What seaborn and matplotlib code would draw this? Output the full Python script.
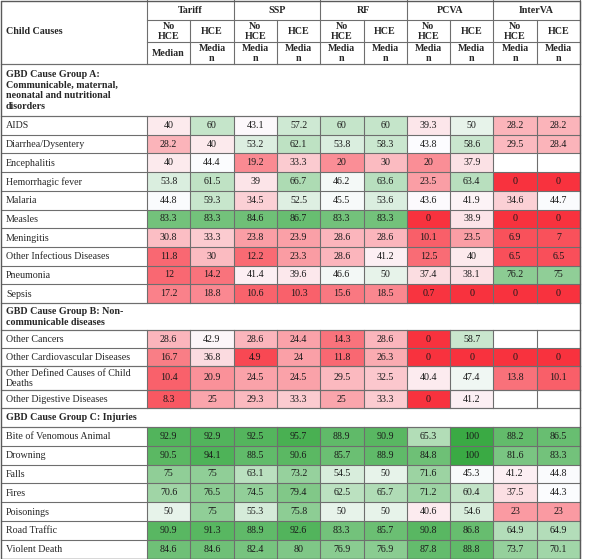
import numpy as np
import pandas as pd
import matplotlib
matplotlib.use("Agg")
import matplotlib.pyplot as plt
import seaborn as sns
from matplotlib.colors import LinearSegmentedColormap

# ---------------- data ----------------
methods = ["Tariff", "SSP", "RF", "PCVA", "InterVA"]
conditions = ["No\nHCE", "HCE"]
stat_first = "Median"
stat_other = "Media\nn"

group_titles = [
    "GBD Cause Group A:\nCommunicable, maternal,\nneonatal and nutritional\ndisorders",
    "GBD Cause Group B: Non-\ncommunicable diseases",
    "GBD Cause Group C: Injuries",
]
causes_a = ["AIDS", "Diarrhea/Dysentery", "Encephalitis", "Hemorrhagic fever", "Malaria",
            "Measles", "Meningitis", "Other Infectious Diseases", "Pneumonia", "Sepsis"]
causes_b = ["Other Cancers", "Other Cardiovascular Diseases",
            "Other Defined Causes of Child\nDeaths", "Other Digestive Diseases"]
causes_c = ["Bite of Venomous Animal", "Drowning", "Falls", "Fires", "Poisonings",
            "Road Traffic", "Violent Death"]

N = np.nan
tariff_no  = [40, 28.2, 40, 53.8, 44.8, 83.3, 30.8, 11.8, 12, 17.2,
              28.6, 16.7, 10.4, 8.3,
              92.9, 90.5, 75, 70.6, 50, 90.9, 84.6]
tariff_hce = [60, 40, 44.4, 61.5, 59.3, 83.3, 33.3, 30, 14.2, 18.8,
              42.9, 36.8, 20.9, 25,
              92.9, 94.1, 75, 76.5, 75, 91.3, 84.6]
ssp_no     = [43.1, 53.2, 19.2, 39, 34.5, 84.6, 23.8, 12.2, 41.4, 10.6,
              28.6, 4.9, 24.5, 29.3,
              92.5, 88.5, 63.1, 74.5, 55.3, 88.9, 82.4]
ssp_hce    = [57.2, 62.1, 33.3, 66.7, 52.5, 86.7, 23.9, 23.3, 39.6, 10.3,
              24.4, 24, 24.5, 33.3,
              95.7, 90.6, 73.2, 79.4, 75.8, 92.6, 80]
rf_no      = [60, 53.8, 20, 46.2, 45.5, 83.3, 28.6, 28.6, 46.6, 15.6,
              14.3, 11.8, 29.5, 25,
              88.9, 85.7, 54.5, 62.5, 50, 83.3, 76.9]
rf_hce     = [60, 58.3, 30, 63.6, 53.6, 83.3, 28.6, 41.2, 50, 18.5,
              28.6, 26.3, 32.5, 33.3,
              90.9, 88.9, 50, 65.7, 50, 85.7, 76.9]
pcva_no    = [39.3, 43.8, 20, 23.5, 43.6, 0, 10.1, 12.5, 37.4, 0.7,
              0, 0, 40.4, 0,
              65.3, 84.8, 71.6, 71.2, 40.6, 90.8, 87.8]
pcva_hce   = [50, 58.6, 37.9, 63.4, 41.9, 38.9, 23.5, 40, 38.1, 0,
              58.7, 0, 47.4, 41.2,
              100, 100, 45.3, 60.4, 54.6, 86.8, 88.8]
interva_no = [28.2, 29.5, N, 0, 34.6, 0, 6.9, 6.5, 76.2, 0,
              N, 0, 13.8, N,
              88.2, 81.6, 41.2, 37.5, 23, 64.9, 73.7]
interva_hce = [28.2, 28.4, N, 0, 44.7, 0, 7, 6.5, 75, 0,
               N, 0, 10.1, N,
               86.5, 83.3, 44.8, 44.3, 23, 64.9, 70.1]

all_causes = causes_a + causes_b + causes_c
df = pd.DataFrame({
    "Tariff No": tariff_no, "Tariff HCE": tariff_hce,
    "SSP No": ssp_no, "SSP HCE": ssp_hce,
    "RF No": rf_no, "RF HCE": rf_hce,
    "PCVA No": pcva_no, "PCVA HCE": pcva_hce,
    "InterVA No": interva_no, "InterVA HCE": interva_hce,
}, index=all_causes)

# ---------------- style ----------------
sns.set_theme(style="white")
plt.rcParams["font.family"] = ["Liberation Serif", "DejaVu Serif"]

W, H = 600, 559
fig = plt.figure(figsize=(W / 100, H / 100), dpi=100)
fig.patch.set_facecolor("white")

red = (248 / 255, 50 / 255, 62 / 255)
white = (252 / 255, 252 / 255, 255 / 255)
green = (58 / 255, 170 / 255, 68 / 255)
cmap = LinearSegmentedColormap.from_list("rwg", [(0, red), (0.44, white), (1, green)])

x_left, x_lab, x_right = 0.5, 147, 580
col_w = (x_right - x_lab) / 10
line_c = "#6e6e6e"
lw_px = 0.8
fs = 7.2

# blocks: (top px, bottom px, row start, row end)
blocks = [(116, 303, 0, 10), (330, 366, 10, 12), (366, 390, 12, 13),
          (390, 408, 13, 14), (427, 558.5, 14, 21)]

for top, bot, r0, r1 in blocks:
    ax = fig.add_axes([x_lab / W, 1 - bot / H, (x_right - x_lab) / W, (bot - top) / H])
    sns.heatmap(df.iloc[r0:r1], ax=ax, cmap=cmap, vmin=0, vmax=100, cbar=False,
                annot=True, fmt="g", linewidths=0,
                xticklabels=False, yticklabels=False,
                annot_kws={"color": "#1a1a1a", "fontsize": fs})
    ax.set_xlabel("")
    ax.set_ylabel("")

# ---------------- overlay: text and rules ----------------
ov = fig.add_axes([0, 0, 1, 1], zorder=10)
ov.set_xlim(0, W)
ov.set_ylim(H, 0)
ov.axis("off")
ov.patch.set_alpha(0)

def hline(y, x0=x_left, x1=x_right, lw=lw_px):
    ov.plot([x0, x1], [y, y], color=line_c, lw=lw, solid_capstyle="projecting")

def vline(x, y0, y1, lw=lw_px):
    ov.plot([x, x], [y0, y1], color=line_c, lw=lw, solid_capstyle="projecting")

# header
hline(20, x_lab, x_right)
hline(42, x_lab, x_right)
hline(64)
for k in range(6):
    vline(x_lab + 2 * k * col_w, 0, 64)
for k in range(5):
    vline(x_lab + (2 * k + 1) * col_w, 20, 64)
ov.text(6, 32, "Child Causes", fontsize=fs, fontweight="bold", va="center", ha="left")
for k, m in enumerate(methods):
    cx = x_lab + (2 * k + 1) * col_w
    ov.text(cx, 10.5, m, fontsize=fs, fontweight="bold", ha="center", va="center")
    for j, c in enumerate(conditions):
        cxx = x_lab + (2 * k + j + 0.5) * col_w
        ov.text(cxx, 31.5, c, fontsize=fs, fontweight="bold", ha="center", va="center",
                linespacing=1.1)
        lab = stat_first if (k == 0 and j == 0) else stat_other
        ov.text(cxx, 53.5, lab, fontsize=fs, fontweight="bold", ha="center", va="center",
                linespacing=1.1)

# group headers
group_spans = [(64, 116), (303, 330), (408, 427)]
for (y0, y1), t in zip(group_spans, group_titles):
    ov.text(6, (y0 + y1) / 2 + 0.5, t, fontsize=fs, fontweight="bold", ha="left",
            va="center", linespacing=1.2)
    hline(y0)
    hline(y1)

# row labels and grid rules
for top, bot, r0, r1 in blocks:
    n = r1 - r0
    h = (bot - top) / n
    for k in range(11):
        vline(x_lab + k * col_w, top, bot)
    for i in range(n):
        y0 = top + i * h
        hline(y0)
        ov.text(6, y0 + h / 2 + 0.5, all_causes[r0 + i], fontsize=fs, ha="left",
                va="center", linespacing=1.1)
    hline(bot)

# outer border
ov.plot([x_left, x_right, x_right, x_left, x_left], [0.5, 0.5, 558.5, 558.5, 0.5],
        color="#5a5a5a", lw=1.0)

fig.savefig("out.png", dpi=100, facecolor="white")
